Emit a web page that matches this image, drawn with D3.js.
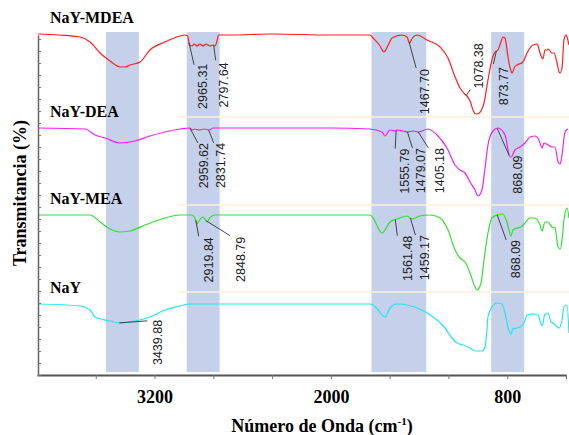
<!DOCTYPE html>
<meta http-equiv="content-type" content="text/html; charset=utf-8">
<style>
body { margin: 0; background: #fff; }
.serif {
  font-family: "Liberation Serif", "Times New Roman", serif;
  font-weight: bold;
  fill: #000;
}
.peak {
  font-family: "Liberation Sans", Arial, sans-serif;
  font-size: 12.5px;
  fill: #222;
}
.spec {
  fill: none;
  stroke-width: 1.2;
}
</style>
<body>
<div id="chart"></div>
<script src="https://d3js.org/d3.v7.min.js"></script>
<script>
// wavenumber ticks (cm-1)
var wnTicks = [3600, 3200, 2800, 2400, 2000, 1600, 1200, 800, 400];
var wnLabels = [3200, 2000, 800];

// shaded regions [from, to] in cm-1
var bands = [[3531, 3307], [2981, 2757], [1724, 1351], [909, 685]];

var seriesNames = ["NaY-MDEA", "NaY-DEA", "NaY-MEA", "NaY"];
var seriesColors = ["#ff1f1f", "#ef22ef", "#30e030", "#22e6f0"];

// spectra: [wavenumber, transmittance (stacked, arbitrary units)]
var mdea = [[3993,170.5],[3850,170],[3707,169],[3639,166.5],[3571,161],[3503,157],[3435,154],[3401,154],
  [3367,155],[3299,156.5],[3231,162.5],[3129,166.5],[3027,169.5],[2993,170],[2975,169.5],[2962,165],
  [2945,164.5],[2930,165.5],[2911,164.5],[2891,165.5],[2870,164.5],[2850,165.5],[2823,164.5],[2802,165],
  [2789,164.5],[2775,167],[2765,170],[2700,170],[2400,170.5],[2000,170],[1734,170],[1713,168.5],
  [1670,165],[1639,161.5],[1610,165],[1584,168.5],[1516,170],[1482,169],[1465,166],[1445,168.5],
  [1414,170],[1346,167.5],[1257,164],[1203,158.5],[1155,149],[1121,143.5],[1090,140.5],[1074,139.5],
  [1053,137],[1030,132],[1015,130.5],[990,131],[972,133],[958,136],[931,147.5],[904,157.5],[883,161.5],
  [863,162.5],[845,166],[829,169],[815,168.5],[808,166],[795,159],[774,152],[767,151],[750,154],
  [733,155],[693,156.5],[665,161],[625,165],[597,165.5],[584,163],[577,161],[563,158.5],[557,158],
  [543,162.5],[530,162.5],[522,163],[495,161],[481,161],[461,156],[447,151.5],[440,151],[427,153.5],
  [414,167.5],[400,170],[393,169],[380,165]];

var dea = [[3993,123.5],[3673,123],[3605,120],[3537,118.5],[3435,116],[3333,117],[3231,119.5],[3129,121.5],
  [3027,123],[2959,123.5],[2945,122.5],[2925,123],[2900,122.5],[2860,123],[2829,122.5],[2800,123.5],
  [2500,123.5],[2000,123.5],[1734,123],[1652,121.5],[1632,119.5],[1598,122.5],[1560,122],[1550,122.5],
  [1510,122],[1479,121.5],[1440,122],[1405,121.5],[1339,123],[1278,120],[1210,113.5],[1155,105],
  [1121,102.5],[1087,101],[1053,96.5],[1019,92.5],[999,89.5],[972,92.5],[951,103.5],[931,115],
  [897,122],[863,123.5],[815,120],[781,109],[774,109],[747,112.5],[713,114],[679,116],[645,119],
  [611,119.5],[584,117.5],[563,113.5],[550,116],[522,115],[495,114],[475,114],[454,106.5],[440,105.5],
  [427,110],[407,121.5],[386,123]];

var mea = [[3993,80],[3639,80],[3571,76.5],[3503,73],[3435,71.5],[3367,72],[3265,75],[3129,78.5],
  [3027,80],[2950,80],[2925,78.5],[2911,75.5],[2898,77],[2870,79],[2857,78],[2843,76.5],[2825,78.5],
  [2789,80],[2500,80],[2000,80],[1734,80],[1713,78.5],[1652,71],[1598,76.5],[1550,78],[1482,79.5],
  [1448,78],[1394,79.5],[1326,80],[1257,78.5],[1203,72.5],[1155,62.5],[1121,58.5],[1087,56.5],
  [1053,51],[1019,44],[1006,42.5],[978,46],[958,57.5],[931,71],[904,78.5],[870,80],[829,80.5],
  [802,76.5],[774,69.5],[761,72.5],[733,73.5],[706,74],[679,76],[645,78.5],[611,78.5],[577,75],
  [563,72],[543,76.5],[522,76.5],[495,74],[475,73.5],[454,64],[440,63],[427,67.5],[414,77.5],
  [393,83.5],[380,78.5]];

var nay = [[3993,35.5],[3707,34.5],[3639,32.5],[3605,29],[3503,27],[3435,26],[3333,27],[3231,29],
  [3129,32.5],[3027,34.5],[2959,35.5],[2500,35.5],[2000,35.5],[1734,35.5],[1713,35],[1679,32.5],
  [1632,29],[1598,33.5],[1550,35.5],[1482,35],[1414,33.5],[1346,31],[1278,27.5],[1223,23.5],
  [1176,18.5],[1142,16],[1101,15],[1053,13.5],[1019,12],[972,12],[951,14],[938,22.5],[931,29],
  [904,34],[870,36],[836,35.5],[815,31],[795,24],[774,20.5],[761,23],[733,23.5],[713,24],[686,26],
  [665,30],[625,30.5],[591,30],[563,24.5],[543,30.5],[522,31],[502,26.5],[488,26],[461,24],
  [447,23.5],[427,27.5],[414,34],[393,35],[380,21]];

var spectra = [mdea, dea, mea, nay];

// labelled peaks: series index, wavenumber
var peakSeries = [0, 0, 0, 0, 0, 1, 1, 1, 1, 1, 1, 2, 2, 2, 2, 2, 3];
var peakWn = [2965.31, 2797.64, 1467.70, 1078.38, 873.77,
  2959.62, 2831.74, 1555.79, 1479.07, 1405.18, 868.09,
  2919.84, 2848.79, 1561.48, 1459.17, 868.09, 3439.88];

// label placement: leader end dx, dy, text dx, dy (relative to the peak)
var peakPlace = [[5,22,14,21],[2,15,10,17],[7,26,16,27],[4,-6,12,-7],[-3,13,7,16],
  [8,15,14,15],[5,13,12,13],[-1,18,8,18],[5,16,13,16],[10,16,21,16],[12,27,20,27],
  [3,16,13,17],[24,15,34,16],[2,16,12,16],[5,17,14,17],[9,25,18,25],[28,-2,38,-3]];

var width = 569, height = 435;

var svg = d3.select("#chart").append("svg")
    .attr("width", width)
    .attr("height", height);

var x = d3.scaleLinear()
    .domain([4000, 400])
    .range([37, 566]);

var y = d3.scaleLinear()
    .domain([0, 170])
    .range([375, 35]);

// shaded bands
svg.selectAll("rect.band")
  .data(bands)
  .enter().append("rect")
    .attr("class", "band")
    .attr("x", function(d) { return x(d[0]); })
    .attr("width", function(d) { return x(d[1]) - x(d[0]); })
    .attr("y", y(171.5))
    .attr("height", y(1.5) - y(171.5))
    .attr("fill", "#c5d0ea");

// faint separator lines
svg.selectAll("line.sep")
  .data([129, 85, 41.5])
  .enter().append("line")
    .attr("x1", x(3047)).attr("x2", width)
    .attr("y1", function(d) { return y(d); })
    .attr("y2", function(d) { return y(d); })
    .attr("stroke", "#fbf1dd")
    .attr("stroke-width", 1.5);

var line = d3.line()
    .x(function(d) { return x(d[0]); })
    .y(function(d) { return y(d[1]); })
    .curve(d3.curveMonotoneX);

svg.selectAll("path.spec")
  .data(spectra)
  .enter().append("path")
    .attr("class", "spec")
    .attr("d", line)
    .attr("stroke", function(d, i) { return seriesColors[i]; });

// series names
svg.selectAll("text.name")
  .data(seriesNames)
  .enter().append("text")
    .attr("class", "serif")
    .attr("x", 50)
    .attr("y", function(d, i) { return y(spectra[i][0][1]) - 11; })
    .style("font-size", "16px")
    .text(function(d) { return d; });

function valueAt(s, wn) {
  for (var i = 0; i < s.length - 1; i++) {
    if ((s[i][0] - wn) * (s[i + 1][0] - wn) <= 0) {
      var t = (wn - s[i][0]) / (s[i + 1][0] - s[i][0]);
      return s[i][1] + t * (s[i + 1][1] - s[i][1]);
    }
  }
  return s[0][1];
}

var peaks = peakWn.map(function(wn, i) {
  var s = spectra[peakSeries[i]];
  return { wn: wn, px: x(wn), py: y(valueAt(s, wn)), p: peakPlace[i] };
});

var pg = svg.append("g");

pg.selectAll("line")
  .data(peaks)
  .enter().append("line")
    .attr("x1", function(d) { return d.px; })
    .attr("y1", function(d) { return d.py; })
    .attr("x2", function(d) { return d.px + d.p[0]; })
    .attr("y2", function(d) { return d.py + d.p[1]; })
    .attr("stroke", "#333")
    .attr("stroke-width", 0.9);

pg.selectAll("text")
  .data(peaks)
  .enter().append("text")
    .attr("class", "peak")
    .attr("transform", function(d) {
      return "translate(" + (d.px + d.p[2]) + "," + (d.py + d.p[3]) + ") rotate(-90)";
    })
    .attr("dy", "0.35em")
    .attr("text-anchor", function(d) { return d.p[3] < 0 && d.wn < 3000 ? "start" : "end"; })
    .text(function(d) { return d.wn.toFixed(2); });

// axes
var xAxis = svg.append("g")
    .attr("transform", "translate(0," + y(0) + ")")
    .call(d3.axisBottom(x)
      .tickValues(wnTicks)
      .tickSize(4)
      .tickSizeOuter(0)
      .tickPadding(11)
      .tickFormat(function(d) { return wnLabels.indexOf(d) >= 0 ? d : ""; }));
xAxis.select(".domain").attr("stroke", "#555").attr("stroke-width", 2);
xAxis.selectAll(".tick line").attr("stroke", "#777");
xAxis.selectAll(".tick text")
    .attr("class", "serif")
    .style("font-size", "18px");

var yAxis = svg.append("g")
    .attr("transform", "translate(" + 38 + ",0)")
    .call(d3.axisLeft(y)
      .tickValues(d3.range(0, 170, 6))
      .tickSize(-3)
      .tickSizeOuter(0)
      .tickFormat(""));
yAxis.select(".domain").attr("stroke", "#666").attr("stroke-width", 1.5);
yAxis.selectAll(".tick line").attr("stroke", "#777");

// titles
svg.append("text")
    .attr("class", "serif")
    .attr("transform", "translate(20," + 193 + ") rotate(-90)")
    .attr("dy", "0.35em")
    .attr("text-anchor", "middle")
    .style("font-size", "18px")
    .text("Transmitancia  (%)");

var xt = svg.append("text")
    .attr("class", "serif")
    .attr("x", 322)
    .attr("y", 432)
    .attr("text-anchor", "middle")
    .style("font-size", "18px");
xt.append("tspan").text("Número de Onda (cm");
xt.append("tspan").attr("dy", -7).style("font-size", "11px").text("-1");
xt.append("tspan").attr("dy", 7).text(")");
</script>
</body>
</html>
